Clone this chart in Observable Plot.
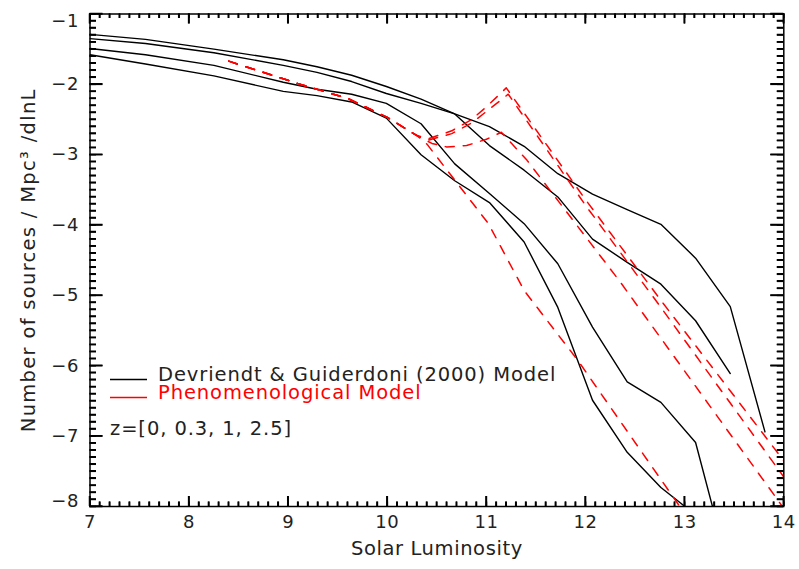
<!DOCTYPE html>
<html><head><meta charset="utf-8">
<script src="https://cdn.jsdelivr.net/npm/d3@7"></script>
<script src="https://cdn.jsdelivr.net/npm/@observablehq/plot@0.6"></script>
<style>
html,body{margin:0;padding:0;background:#fff;}
#chart{width:799px;height:569px;}
</style></head><body><div id="chart"></div>
<script>
// ---- Devriendt & Guiderdoni (2000) model curves (black, solid) ----
const blackX = [7.00, 7.56, 8.25, 8.95, 9.29, 9.64, 9.99, 10.34, 10.68, 11.03, 11.38, 11.72, 12.07, 12.42, 12.76, 13.11, 13.46, 13.81];
const dgLineA = [-1.29, -1.36, -1.50, -1.65, -1.75, -1.87, -2.03, -2.21, -2.42, -2.60, -2.88, -3.27, -3.56, -3.78, -3.99, -4.47, -5.16, -6.94];
const dgLineB = [-1.35, -1.42, -1.55, -1.73, -1.83, -1.96, -2.13, -2.27, -2.42, -2.87, -3.22, -3.60, -4.20, -4.53, -4.84, -5.36, -6.11];
const dgLineC = [-1.49, -1.58, -1.73, -1.97, -2.07, -2.14, -2.27, -2.56, -3.13, -3.55, -3.98, -4.55, -5.45, -6.23, -6.52, -7.09, -8.96];
const dgLineD = [-1.58, -1.71, -1.88, -2.10, -2.16, -2.25, -2.48, -3.00, -3.37, -3.68, -4.24, -5.17, -6.49, -7.23, -7.73, -8.12];

// ---- Phenomenological model curves (red, dashed) ----
const phenX1 = [8.40, 9.10, 9.60, 10.00, 10.30, 10.42, 10.65, 10.85, 11.00, 11.20, 12.00, 12.76, 14.00];
const phenY1 = [-1.67, -1.99, -2.20, -2.47, -2.73, -2.77, -2.66, -2.50, -2.32, -2.05, -3.64, -5.07, -7.35];
const phenX2 = [8.40, 9.10, 9.60, 10.00, 10.30, 10.42, 10.65, 10.85, 11.05, 11.22, 12.00, 12.76, 14.00];
const phenY2 = [-1.67, -1.99, -2.20, -2.47, -2.73, -2.79, -2.70, -2.55, -2.33, -2.14, -3.72, -5.17, -7.58];
const phenX3 = [8.40, 9.10, 9.60, 10.00, 10.30, 10.45, 10.60, 10.80, 11.00, 11.15, 11.41, 12.34, 13.92, 14.00];
const phenY3 = [-1.67, -1.99, -2.20, -2.47, -2.73, -2.84, -2.89, -2.87, -2.78, -2.68, -3.08, -4.79, -7.87, -8.03];
const phenX4 = [8.40, 9.10, 9.60, 10.00, 10.30, 10.40, 11.02, 11.38, 11.92, 12.95];
const phenY4 = [-1.67, -1.99, -2.20, -2.47, -2.73, -2.85, -3.98, -4.93, -5.92, -8.00];

// ---- ticks and text ----
const xMajorTicks = [7, 8, 9, 10, 11, 12, 13, 14];
const yMajorTicks = [-8, -7, -6, -5, -4, -3, -2, -1];
const xMinorStep = 0.1;
const yMinorStep = 0.1;
const xTitle = "Solar Luminosity";
const yTitle = "Number of sources / Mpc³ /dlnL";
const legendLabels = ["Devriendt & Guiderdoni (2000) Model", "Phenomenological Model"];
const redshiftNote = "z=[0, 0.3, 1, 2.5]";

// build tables
const blackSeries = [dgLineA, dgLineB, dgLineC, dgLineD];
const blackData = blackSeries.flatMap((ys, s) => ys.map((y, i) => ({s, x: blackX[i], y})));
const redSeries = [[phenX1, phenY1], [phenX2, phenY2], [phenX3, phenY3], [phenX4, phenY4]];
const redData = redSeries.flatMap(([xs, ys], s) => ys.map((y, i) => ({s, x: xs[i], y})));
const xMinor = d3.range(70, 141).map(v => v * xMinorStep);
const yMinor = d3.range(-80, -9).map(v => v * yMinorStep);

const W = 799, H = 569;
const mL = 89.5, mR = 15.7, mT = 13.5, mB = 63;
const frameW = W - mL - mR, frameH = H - mT - mB;
const font = "DejaVu Sans";
const txtColor = "#222";
const intFmt = d3.format("d");
const tickStyle = {stroke: "#000", strokeWidth: 1.5};

const chart = Plot.plot({
  width: W, height: H,
  marginLeft: mL, marginRight: mR, marginTop: mT, marginBottom: mB,
  x: {domain: [7, 14]},
  y: {domain: [-8, -1]},
  style: {fontFamily: font, fontSize: "18px", color: txtColor, background: "#fff", letterSpacing: "0.6px"},
  marks: [
    Plot.line(blackData, {x: "x", y: "y", z: "s", stroke: "#000", strokeWidth: 1.4, clip: true}),
    Plot.line(redData, {x: "x", y: "y", z: "s", stroke: "#ff0000", strokeWidth: 1.5, strokeDasharray: "9,9", clip: true}),
    // inward ticks drawn as Plot rules (bottom/top, left/right)
    Plot.ruleX(xMajorTicks, {x: d => d, insetTop: frameH - 10, ...tickStyle}),
    Plot.ruleX(xMinor, {x: d => d, insetTop: frameH - 4.5, ...tickStyle}),
    Plot.ruleX(xMajorTicks, {x: d => d, insetBottom: frameH - 10, ...tickStyle}),
    Plot.ruleX(xMinor, {x: d => d, insetBottom: frameH - 4.5, ...tickStyle}),
    Plot.ruleY(yMajorTicks, {y: d => d, insetRight: frameW - 13, ...tickStyle}),
    Plot.ruleY(yMinor, {y: d => d, insetRight: frameW - 6.5, ...tickStyle}),
    Plot.ruleY(yMajorTicks, {y: d => d, insetLeft: frameW - 13, ...tickStyle}),
    Plot.ruleY(yMinor, {y: d => d, insetLeft: frameW - 6.5, ...tickStyle}),
    // tick labels
    Plot.axisX({anchor: "bottom", ticks: xMajorTicks, tickSize: 0, tickPadding: 9, tickFormat: intFmt, label: null, fontSize: 18, fill: txtColor}),
    Plot.axisY({anchor: "left", ticks: yMajorTicks.slice(1, -1), tickSize: 0, tickPadding: 11, tickFormat: intFmt, label: null, fontSize: 18, fill: txtColor}),
    Plot.axisY({anchor: "left", ticks: [-1], tickSize: 0, tickPadding: 11, dy: 7, tickFormat: intFmt, label: null, fontSize: 18, fill: txtColor}),
    Plot.axisY({anchor: "left", ticks: [-8], tickSize: 0, tickPadding: 11, dy: -5, tickFormat: intFmt, label: null, fontSize: 18, fill: txtColor}),
    // titles
    Plot.text([xTitle], {frameAnchor: "bottom", textAnchor: "middle", dy: 48, fontSize: 19.5, fill: txtColor}),
    Plot.text([yTitle], {frameAnchor: "left", textAnchor: "middle", dx: -61.5, rotate: -90, fontSize: 19.5, fill: txtColor}),
    Plot.frame({stroke: "#000", strokeWidth: 1.5})
  ]
});
document.getElementById("chart").appendChild(chart);

const svg = d3.select(chart);

// slightly wider letter spacing on the y title, like the reference
svg.selectAll("text").filter(function() { return this.textContent === yTitle; })
  .attr("letter-spacing", "1.3px");

// inward ticks again as one path, using Plot's x/y scale domain and range
const sxo = chart.scale("x") || {}, syo = chart.scale("y") || {};
const xMap = d3.scaleLinear().domain(sxo.domain || [7, 14]).range(sxo.range || [mL, W - mR]);
const yMap = d3.scaleLinear().domain(syo.domain || [-8, -1]).range(syo.range || [H - mB, mT]);
const frameLeft = mL, frameRight = W - mR, frameTop = mT, frameBottom = H - mB;
const tickPath = d3.path();
function addXTicks(vals, len) {
  vals.forEach(v => {
    const px = xMap(v);
    tickPath.moveTo(px, frameBottom); tickPath.lineTo(px, frameBottom - len);
    tickPath.moveTo(px, frameTop); tickPath.lineTo(px, frameTop + len);
  });
}
function addYTicks(vals, len) {
  vals.forEach(v => {
    const py = yMap(v);
    tickPath.moveTo(frameLeft, py); tickPath.lineTo(frameLeft + len, py);
    tickPath.moveTo(frameRight, py); tickPath.lineTo(frameRight - len, py);
  });
}
addXTicks(xMinor, 4.5);
addXTicks(xMajorTicks, 10);
addYTicks(yMinor, 6.5);
addYTicks(yMajorTicks, 13);
svg.append("path").attr("d", tickPath.toString())
  .attr("fill", "none").attr("stroke", "#000").attr("stroke-width", 1.5);

// legend inside the plot area
const lg = svg.append("g").attr("font-family", font).attr("font-size", 19.5)
  .attr("letter-spacing", "0.9px").attr("text-anchor", "start");
const legendRows = [
  {label: legendLabels[0], color: "#000", textColor: txtColor, y: 379.5},
  {label: legendLabels[1], color: "#ff0000", textColor: "#ff0000", y: 397.5}
];
legendRows.forEach(r => {
  lg.append("line").attr("x1", 110).attr("x2", 147).attr("y1", r.y).attr("y2", r.y)
    .attr("stroke", r.color).attr("stroke-width", 1.3);
  lg.append("text").attr("x", 158).attr("y", r.y + 1).attr("fill", r.textColor).text(r.label);
});
lg.append("text").attr("x", 110).attr("y", 435).attr("fill", txtColor).text(redshiftNote);
</script></body></html>
